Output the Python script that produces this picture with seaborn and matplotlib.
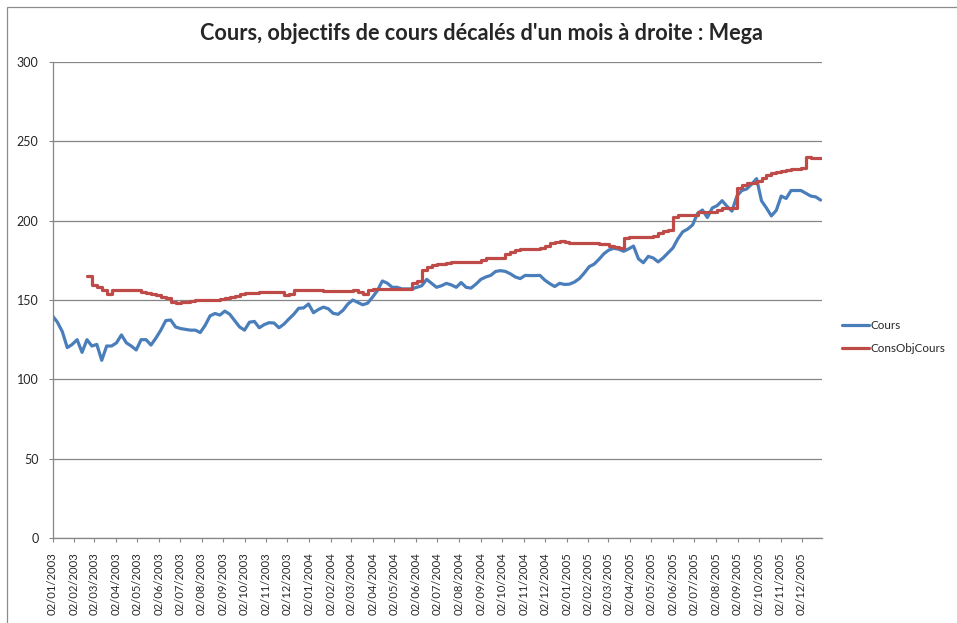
import numpy as np
import pandas as pd
import matplotlib
matplotlib.use("Agg")
import matplotlib.pyplot as plt
import matplotlib.dates as mdates
from matplotlib.patches import Rectangle
import seaborn as sns

# weekly readings, first one on 02/01/2003
start_date = "2003-01-02"
cours = [140, 136, 130, 120, 122, 125, 117, 125, 121, 122,
         112, 121, 121, 123, 128, 123, 121, 118.5, 125, 125,
         121.6, 126, 131, 137, 137.4, 133, 132, 131.5, 131, 131,
         129.5, 134, 140, 141.5, 140.5, 143, 141, 137, 133, 131,
         136, 136.5, 132.5, 134.5, 135.7, 135.5, 132.5, 134.8, 138, 141,
         144.8, 145, 147.5, 142, 144, 145.5, 144.5, 141.6, 141, 143.5,
         147.5, 150, 148.5, 147, 148, 151.8, 156, 162, 160.6, 158,
         158, 157, 157, 157, 158, 159, 163, 160.5, 158, 159,
         160.5, 159.5, 158, 161, 158, 157.5, 160, 163, 164.5, 165.5,
         168, 168.5, 168, 166.5, 164.5, 163.5, 165.5, 165.4, 165.4, 165.5,
         162.5, 160.3, 158.5, 160.5, 159.8, 160, 161.3, 163.5, 167, 171,
         172.6, 175.7, 179.2, 181.5, 182.6, 182, 180.7, 182.2, 184, 176,
         173.5, 177.5, 176.5, 174, 176.5, 179.7, 182.8, 188.5, 193, 194.7,
         197.3, 204.5, 206.7, 202, 208, 209.5, 212.6, 209, 206, 215.5,
         219, 220, 223, 226.5, 212.5, 208, 203, 206.5, 215.5, 214,
         219, 219, 219, 217.3, 215.5, 215, 213]

cons_obj_cours = [None] * 7 + [
    165, 159.5, 158, 156, 153.5, 156.3, 156.3, 156.3, 156.3, 156.3,
    156, 155.2, 154.3, 153.8, 153.2, 152.2, 151, 149, 148.3, 148.5,
    149, 149.3, 149.7, 150, 150.2, 150.2, 150.3, 150.4, 151.5, 152.2,
    152.5, 153.5, 154.2, 154.3, 154.6, 155, 155.3, 155.2, 155, 154.8,
    153.2, 154, 156.3, 156, 156, 156, 156, 156, 155.8, 155.8,
    155.7, 155.6, 155.5, 155.5, 156.3, 155, 153.5, 156.5, 156.7, 156.7,
    156.7, 156.7, 156.7, 156.7, 156.7, 157, 161, 162, 169, 170.5,
    172, 172.5, 173, 173.5, 173.8, 173.8, 173.8, 173.8, 173.8, 174,
    175, 176.3, 176.3, 176.3, 176.3, 179, 180, 181.5, 182, 182,
    182.2, 182.3, 182.5, 184, 186, 186.5, 187.4, 186.5, 186, 186,
    186, 186, 186, 186, 185.5, 185, 184.3, 183.5, 183, 189.2,
    189.6, 189.7, 189.8, 189.9, 190, 190.5, 192.5, 193.5, 194, 202.5,
    203.4, 203.5, 203.5, 203.5, 205.5, 205.5, 205.5, 205.5, 207, 207.8,
    207.8, 208, 220.5, 222.5, 223.5, 224, 225, 226.7, 228.5, 229.8,
    230.5, 231.3, 232, 232.5, 232.8, 233, 240, 239.5, 239.3, 239.3]

series_names = ["Cours", "ConsObjCours"]
colors = ["#4A7EBB", "#BE4B48"]
title = "Cours, objectifs de cours décalés d'un mois à droite : Mega"

dates = pd.date_range(start_date, periods=len(cours), freq="7D")
df = pd.DataFrame({"date": dates,
                   "Cours": cours,
                   "ConsObjCours": pd.to_numeric(pd.Series(cons_obj_cours), errors="coerce")})

sns.set_style("white")
plt.rcParams["font.family"] = ["Lato", "DejaVu Sans"]

fig = plt.figure(figsize=(9.57, 6.23), dpi=100)
ax = fig.add_axes([52.5 / 957, 1 - 538 / 623, (822 - 52.5) / 957, (538 - 62) / 623])

sns.lineplot(data=df, x="date", y="Cours", color=colors[0], lw=2.3,
             label=series_names[0], ax=ax, estimator=None)
sns.lineplot(data=df.dropna(), x="date", y="ConsObjCours", color=colors[1], lw=2.3,
             label=series_names[1], ax=ax, estimator=None, drawstyle="steps-post")

ax.set_ylim(0, 300)
ax.set_yticks([0, 50, 100, 150, 200, 250, 300])
ax.set_xlim(pd.Timestamp("2003-01-02"), pd.Timestamp("2005-12-31"))
ax.xaxis.set_major_locator(mdates.MonthLocator(bymonthday=2))
ax.xaxis.set_major_formatter(mdates.DateFormatter("%d/%m/%Y"))
ax.set_xlabel("")
ax.set_ylabel("")
ax.grid(axis="y", color="#868686", lw=0.9)
ax.set_axisbelow(True)
for s in ["top", "right"]:
    ax.spines[s].set_visible(False)
for s in ["left", "bottom"]:
    ax.spines[s].set_color("#868686")
    ax.spines[s].set_linewidth(0.9)
ax.tick_params(axis="x", rotation=90, labelsize=8.1, length=3, color="#868686",
               bottom=True, pad=7)
ax.tick_params(axis="y", labelsize=9, length=3, color="#868686", left=True, pad=7)

ax.legend(loc="center left", bbox_to_anchor=(842 / 957, 1 - 337 / 623),
          bbox_transform=fig.transFigure, frameon=False, fontsize=8.4,
          handlelength=2.3, handletextpad=0.15, labelspacing=1.1,
          borderpad=0, borderaxespad=0)

fig.text(0.503, 1 - 34 / 623, title, ha="center", va="center",
         fontsize=15.6, fontweight="bold")

fig.patches.append(Rectangle((7 / 957, -0.1), 1.2, 1 - 7 / 623 + 0.1,
                             transform=fig.transFigure, fill=False,
                             edgecolor="#8c8c8c", lw=0.9))

fig.savefig("out.png", dpi=100)
